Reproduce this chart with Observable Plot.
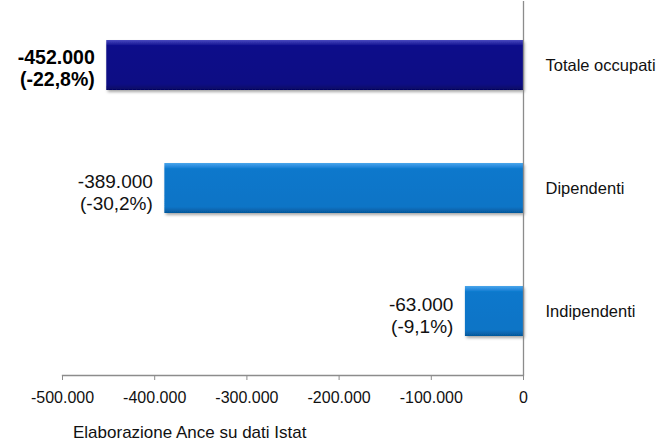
<!DOCTYPE html>
<html>
<head>
<meta charset="utf-8">
<script src="https://cdn.jsdelivr.net/npm/d3@7"></script>
<script src="https://cdn.jsdelivr.net/npm/@observablehq/plot@0.6"></script>
<style>
  html, body { margin: 0; padding: 0; background: #fff; }
  #chart { width: 664px; }
  .caption { font-family: "Liberation Sans", Arial, sans-serif; font-size: 17px; color: #111; padding-left: 73px; padding-top: 8px; line-height: 20px; }
</style>
</head>
<body>
<div id="chart"></div>
<script>
const categories = ["Totale occupati", "Dipendenti", "Indipendenti"];
const values = [-452000, -389000, -63000];
const labels = ["-452.000\n(-22,8%)", "-389.000\n(-30,2%)", "-63.000\n(-9,1%)"];
const xTicks = [-500000, -400000, -300000, -200000, -100000, 0];
const caption = "Elaborazione Ance su dati Istat";

const data = categories.map((c, i) => ({cat: c, value: values[i], label: labels[i]}));

const itLocale = d3.formatLocale({decimal: ",", thousands: ".", grouping: [3], currency: ["", " €"], minus: "-"});
const fmt = itLocale.format(",");

function defs() {
  const ns = "http://www.w3.org/2000/svg";
  const d = document.createElementNS(ns, "defs");
  d.innerHTML = `
    <linearGradient id="gNavy" x1="0" y1="0" x2="0" y2="1">
      <stop offset="0" stop-color="#4a4ac0"/>
      <stop offset="0.06" stop-color="#2a2aa6"/>
      <stop offset="0.12" stop-color="#0c0c8a"/>
      <stop offset="0.88" stop-color="#0a0a84"/>
      <stop offset="1" stop-color="#060660"/>
    </linearGradient>
    <linearGradient id="gBlue" x1="0" y1="0" x2="0" y2="1">
      <stop offset="0" stop-color="#4aa6ea"/>
      <stop offset="0.06" stop-color="#2a8ee0"/>
      <stop offset="0.12" stop-color="#0b78cc"/>
      <stop offset="0.88" stop-color="#0a74c6"/>
      <stop offset="1" stop-color="#05579a"/>
    </linearGradient>
    <filter id="shadow" x="-10%" y="-20%" width="130%" height="150%">
      <feDropShadow dx="1.5" dy="2" stdDeviation="1.5" flood-color="#000" flood-opacity="0.35"/>
    </filter>`;
  return d;
}

const plot = Plot.plot({
  width: 664,
  height: 415,
  marginLeft: 62,
  marginRight: 141,
  marginTop: 1,
  marginBottom: 40,
  style: {fontFamily: "'Liberation Sans', Arial, sans-serif", color: "#000", background: "#fff"},
  x: {domain: [-500000, 0], ticks: xTicks, tickFormat: fmt, label: null},
  y: {domain: categories, paddingInner: 0.59, paddingOuter: 0.31, axis: null, label: null},
  marks: [
    defs,
    Plot.barX(data, {filter: d => d.cat === "Totale occupati", x: "value", y: "cat", fill: "url(#gNavy)"}),
    Plot.barX(data, {filter: d => d.cat !== "Totale occupati", x: "value", y: "cat", fill: "url(#gBlue)"}),
    Plot.ruleX([0], {stroke: "#8c8c8c", strokeWidth: 1.3}),
    Plot.frame({anchor: "bottom", stroke: "#8c8c8c", strokeWidth: 1.3}),
    Plot.axisX({ticks: xTicks, tickFormat: fmt, tickSize: 5, tickPadding: 11, fontSize: 16, stroke: "#8c8c8c", fill: "#111", label: null}),
    Plot.text(data, {filter: d => d.cat === "Totale occupati", x: "value", y: "cat", text: "label", textAnchor: "end", dx: -12, dy: 2, fontSize: 19.5, fontWeight: "bold", lineHeight: 1.13, fill: "#000"}),
    Plot.text(data, {filter: d => d.cat !== "Totale occupati", x: "value", y: "cat", text: "label", textAnchor: "end", dx: -12, dy: 3, fontSize: 19, lineHeight: 1.16, fill: "#111"}),
    Plot.text(data, {x: 0, y: "cat", text: "cat", textAnchor: "start", dx: 22, fontSize: 16.5, fill: "#111"})
  ]
});

d3.select(plot).selectAll("g[aria-label='bar'] rect").attr("filter", "url(#shadow)");

document.getElementById("chart").appendChild(plot);
const cap = document.createElement("div");
cap.className = "caption";
cap.textContent = caption;
document.getElementById("chart").appendChild(cap);
</script>
</body>
</html>
